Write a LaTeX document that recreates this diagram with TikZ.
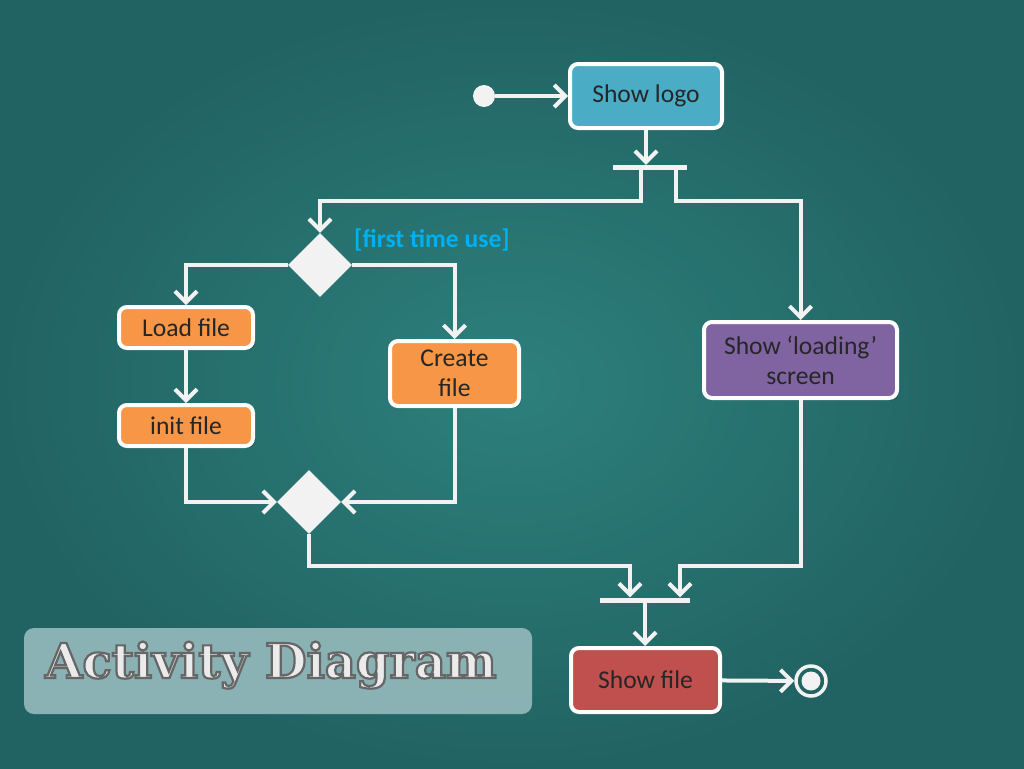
\documentclass[tikz,border=0pt]{standalone}
\usepackage{fontspec}
\setmainfont{Carlito}
\newfontfamily\titlefont{DejaVu Serif}
\usetikzlibrary{arrows.meta,shadows,calc,shapes.geometric}
\definecolor{bgin}{HTML}{2D807D}
\definecolor{bgout}{HTML}{216362}
\definecolor{linec}{HTML}{F2F2F2}
\definecolor{logoc}{HTML}{4BACC6}
\definecolor{orangec}{HTML}{F79646}
\definecolor{purplec}{HTML}{8064A2}
\definecolor{redc}{HTML}{C0504D}
\definecolor{guardc}{HTML}{00B0F0}
\definecolor{titlebg}{HTML}{96BABC}
\definecolor{titlefg}{HTML}{EBEBEB}
\begin{document}
\begin{tikzpicture}[x=1pt,y=-1pt,
  act/.style={draw=white, line width=4pt, rounded corners=8pt, text=black!85,
    font=\fontsize{25.6}{30}\selectfont, align=center, inner sep=0pt,
    drop shadow={shadow xshift=2pt,shadow yshift=-2pt,opacity=0.3,fill=black}},
  decision/.style={diamond, fill=linec, draw=none, minimum width=64pt, minimum height=64pt, inner sep=0pt},
  bar/.style={rectangle, fill=linec, draw=none, minimum height=5pt, inner sep=0pt},
  flow/.style={draw=linec, line width=4pt, -{Straight Barb[length=11pt,width=22pt]}},
]
\useasboundingbox (0,0) rectangle (1024,768);
\shade[inner color=bgin, outer color=bgout] (0,0) rectangle (1024,768);

% title
\node[fill=titlebg, fill opacity=0.9, rounded corners=10pt, minimum width=508pt, minimum height=86pt, inner sep=0pt] (titlebox) at (278,671) {};
\node[anchor=base west, text=titlefg, font=\titlefont\bfseries\fontsize{48}{52}\selectfont, inner sep=0pt] (title) at (45,678)
  {\special{pdf:literal direct 2 Tr 0.40 0.40 0.40 RG 2.2 w}Activity Diagram\special{pdf:literal direct 0 Tr}};

% nodes
\node[circle, fill=linec, minimum size=22pt, inner sep=0pt] (start) at (484,96) {};
\node[act, fill=logoc, minimum width=152pt, minimum height=64pt] (logo) at (646,96) {Show logo};
\node[bar, minimum width=74pt] (fork) at (650,167.5) {};
\node[decision] (d1) at (320,265) {};
\node[font=\bfseries\fontsize{25.6}{30}\selectfont, text=guardc, inner sep=0pt] (guard) at (432,240) {[first time use]};
\node[act, fill=orangec, minimum width=134pt, minimum height=41pt] (loadf) at (186,327.5) {Load file};
\node[act, fill=orangec, minimum width=134pt, minimum height=41pt] (initf) at (186,425.5) {init file};
\node[act, fill=orangec, minimum width=129pt, minimum height=65pt] (create) at (454.5,373.5) {Create\\file};
\node[act, fill=purplec, minimum width=193pt, minimum height=76pt] (loading) at (800.5,360) {Show `loading'\\screen};
\node[decision] (d2) at (309,502) {};
\node[bar, minimum width=90pt] (join) at (645,600) {};
\node[act, fill=redc, minimum width=149pt, minimum height=64pt] (showfile) at (645.5,680) {Show file};
\node[circle, draw=linec, line width=3.5pt, minimum size=30pt, inner sep=0pt] (end) at (811,681) {};
\fill[linec] (end.center) circle (9.5);

% connectors
\draw[flow] (start) -- (logo);
\draw[flow] (logo.south) -- (logo.south |- fork.north);
\coordinate (fl) at ($(fork.south)+(-9,0)$);
\coordinate (fr) at ($(fork.south)+(26,0)$);
\draw[flow] (fl) -- ++(0,31) -| (d1);
\draw[flow] (fr) -- ++(0,31) -| (loading);
\draw[flow] (d1.west) -| (loadf);
\draw[flow] (d1.east) -| (create);
\draw[flow] (loadf) -- (initf);
\draw[flow] (initf.south) |- (d2.west);
\draw[flow] (create.south) |- (d2.east);
\coordinate (jl) at ($(join.north)+(-15,0)$);
\coordinate (jr) at ($(join.north)+(35,0)$);
\draw[flow] (d2.south) -- ++(0,32) -| (jl);
\draw[flow] (loading.south) -- ++(0,166) -| (jr);
\draw[flow] (join.south) -- (join.south |- showfile.north);
\draw[flow] (showfile) -- (end);
\end{tikzpicture}
\end{document}
